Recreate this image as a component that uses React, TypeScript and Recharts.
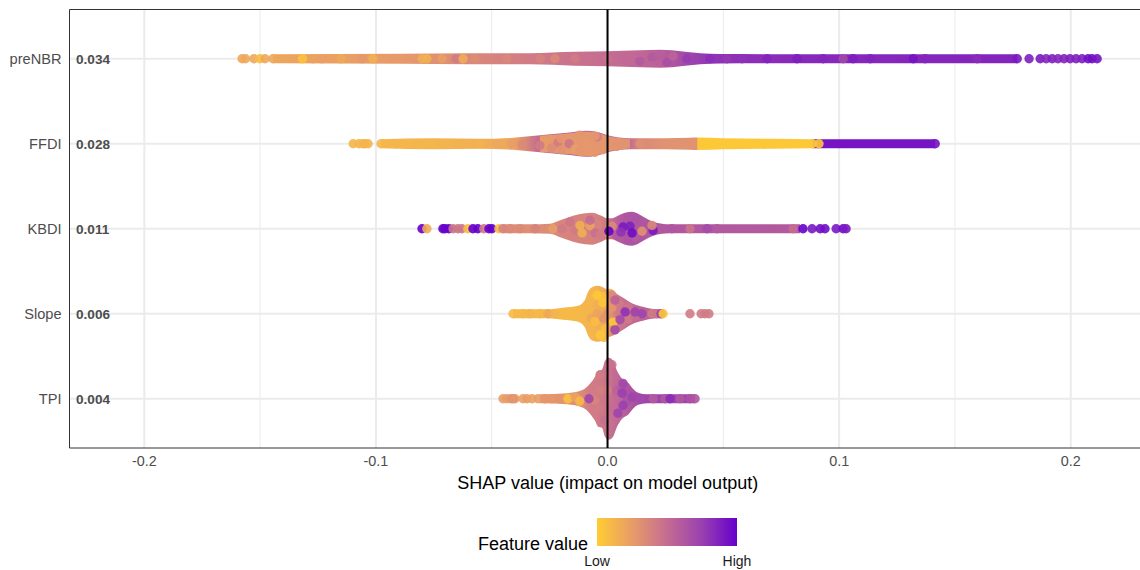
import { ComposedChart, Area, Scatter, XAxis, YAxis, ZAxis, CartesianGrid, ReferenceLine } from 'recharts';

const FONT = '"Liberation Sans", Arial, sans-serif';

const features = ['preNBR', 'FFDI', 'KBDI', 'Slope', 'TPI'];
const meanShap = ['0.034', '0.028', '0.011', '0.006', '0.004'];
const majorTicks = [-0.2, -0.1, 0, 0.1, 0.2];
const minorTicks = [-0.15, -0.05, 0.05, 0.15];
const rowTicks = [1, 2, 3, 4, 5];

// colour bar, low to high
const toneStops = ['#FFCC33', '#E89C68', '#C56C92', '#9940B0', '#6600CC'];

// silhouette of each swarm: shap value, half height (row units), mean feature value
const preNbrX = [-0.1445, -0.0896, -0.0594, -0.0335, -0.014, 0, 0.014, 0.0227, 0.0278, 0.0335, 0.04, 0.0486, 0.0831, 0.1769];
const preNbrHalf = [0.053, 0.059, 0.065, 0.065, 0.082, 0.088, 0.1, 0.106, 0.1, 0.082, 0.065, 0.056, 0.053, 0.053];
const preNbrTone = [0.2, 0.26, 0.35, 0.42, 0.47, 0.5, 0.53, 0.56, 0.62, 0.7, 0.76, 0.8, 0.84, 0.86];

const ffdiX = [-0.0978, -0.0754, -0.0551, -0.0408, -0.0292, -0.0175, -0.0089, -0.0032, 0, 0.0097, 0.014, 0.0248, 0.0356, 0.0385, 0.039, 0.0499, 0.0715, 0.0885, 0.0892, 0.1415];
const ffdiHalf = [0.053, 0.065, 0.059, 0.071, 0.1, 0.129, 0.153, 0.129, 0.1, 0.065, 0.065, 0.065, 0.071, 0.074, 0.074, 0.065, 0.059, 0.053, 0.053, 0.053];
const ffdiTone = [0.11, 0.12, 0.15, 0.2, 0.52, 0.6, 0.62, 0.6, 0.55, 0.5, 0.35, 0.3, 0.3, 0.3, 0.02, 0.02, 0.02, 0.02, 0.92, 0.92];

const ffdiCoreX = [-0.0292, -0.0175, -0.0089, -0.0032, 0, 0.0097];
const ffdiCoreHalf = [0.095, 0.12, 0.145, 0.12, 0.09, 0.055];
const ffdiCoreTone = [0.25, 0.27, 0.28, 0.28, 0.28, 0.3];

const kbdiX = [-0.0451, -0.0335, -0.0248, -0.0205, -0.0149, -0.0097, -0.0067, -0.0032, 0, 0.0019, 0.0045, 0.0076, 0.0106, 0.0132, 0.0162, 0.0197, 0.0235, 0.027, 0.0831];
const kbdiHalf = [0.053, 0.053, 0.059, 0.1, 0.153, 0.182, 0.188, 0.159, 0.124, 0.124, 0.153, 0.188, 0.2, 0.176, 0.129, 0.082, 0.059, 0.053, 0.053];
const kbdiTone = [0.32, 0.32, 0.34, 0.37, 0.38, 0.38, 0.38, 0.4, 0.43, 0.5, 0.58, 0.63, 0.64, 0.64, 0.62, 0.62, 0.62, 0.62, 0.6];

const slopeX = [-0.0408, -0.0261, -0.0192, -0.0127, -0.0097, -0.0084, -0.0063, -0.0045, -0.0024, 0, 0.0032, 0.0067, 0.011, 0.0153, 0.0214, 0.024];
const slopeHalf = [0.053, 0.053, 0.071, 0.094, 0.165, 0.259, 0.318, 0.329, 0.318, 0.282, 0.247, 0.188, 0.118, 0.082, 0.053, 0.053];
const slopeTone = [0.1, 0.1, 0.1, 0.1, 0.12, 0.12, 0.12, 0.14, 0.16, 0.22, 0.4, 0.48, 0.52, 0.55, 0.55, 0.5];

const tpiX = [-0.0292, -0.0175, -0.0106, -0.0076, -0.0054, -0.0041, -0.0024, -0.0011, 0.0006, 0.0024, 0.0041, 0.0063, 0.0089, 0.011, 0.0132, 0.0171, 0.0378];
const tpiHalf = [0.053, 0.065, 0.106, 0.176, 0.259, 0.329, 0.341, 0.447, 0.482, 0.447, 0.329, 0.235, 0.188, 0.118, 0.071, 0.053, 0.053];
const tpiTone = [0.25, 0.28, 0.35, 0.42, 0.42, 0.43, 0.44, 0.46, 0.47, 0.5, 0.52, 0.55, 0.6, 0.64, 0.68, 0.72, 0.72];

// single points readable in the swarm: [shap value, row offset, feature value]
const preNbrDots = [
  [-0.1578, 0, 0.19], [-0.1563, 0, 0.19], [-0.1527, 0, 0.19], [-0.1501, 0, 0.08], [-0.1479, 0, 0.19], [-0.1445, 0, 0.19],
  [-0.1317, 0, 0.05], [-0.1272, 0, 0.22], [-0.1233, 0, 0.24], [-0.1151, 0, 0.18], [-0.106, 0, 0.27], [-0.1013, 0, 0.14],
  [-0.0801, 0, 0.16], [-0.078, 0, 0.14], [-0.0715, 0, 0.24], [-0.0654, 0, 0.42], [-0.0624, 0, 0.17], [-0.0572, 0, 0.33],
  [-0.0434, 0, 0.36], [-0.0291, 0, 0.38], [-0.0227, 0, 0.35], [-0.014, 0, 0.42], [-0.0067, 0, 0.48], [0, 0, 0.47], [0.008, 0.02, 0.52],
  [0.014, 0.03, 0.6], [0.0192, -0.02, 0.6], [0.022, -0.04, 0.58], [0.0257, 0.04, 0.66], [0.0283, -0.03, 0.55], [0.0343, 0, 0.76], [0.0443, 0, 0.82],
  [0.0516, 0, 0.78], [0.0581, 0, 0.8], [0.0689, 0, 0.86], [0.0818, 0, 0.88], [0.0931, 0, 0.85], [0.1017, 0, 0.7], [0.106, 0, 0.88],
  [0.1134, 0, 0.86], [0.132, 0, 0.92], [0.1371, 0, 0.85], [0.1596, 0, 0.82], [0.1769, 0, 0.9], [0.182, 0, 0.88], [0.1868, 0, 0.9],
  [0.1894, 0, 0.85], [0.192, 0, 0.88], [0.1945, 0, 0.85], [0.1971, 0, 0.86], [0.1997, 0, 0.88], [0.2023, 0, 0.88], [0.2049, 0, 0.88],
  [0.2075, 0, 0.95], [0.2092, 0, 0.95], [0.2114, 0, 0.92],
];

const ffdiDots = [
  [-0.1098, 0, 0.12], [-0.1073, 0, 0.12], [-0.1056, 0, 0.12], [-0.1047, 0, 0.12], [-0.1034, 0, 0.12], [-0.0978, 0, 0.11],
  [-0.0917, 0, 0.12], [-0.081, 0, 0.12], [-0.0628, 0, 0.14], [-0.0551, 0, 0.13], [-0.0477, 0, 0.2], [-0.0413, 0, 0.25],
  [-0.0369, 0.01, 0.35], [-0.0292, 0.02, 0.42], [-0.0214, -0.01, 0.42], [-0.0166, 0, 0.45], [-0.0045, -0.08, 0.42],
  [-0.014, 0.06, 0.25], [0.014, 0, 0.32], [0.0885, 0, 0.02], [0.0913, 0, 0.02], [0.1415, 0, 0.92],
  [-0.0119, -0.1, 0.28], [-0.0054, -0.09, 0.28], [-0.0119, 0.09, 0.28], [-0.0054, 0.1, 0.28], [-0.002, 0.07, 0.28], [-0.02, -0.06, 0.28],
  [-0.02, 0.07, 0.3], [0.004, 0.03, 0.3], [-0.009, 0, 0.27], [-0.0242, 0.05, 0.33], [-0.0082, 0.1, 0.27],
];

const kbdiDots = [
  [-0.0801, 0, 1], [-0.078, 0, 0.17], [-0.0711, 0, 1], [-0.0702, 0, 1], [-0.0685, 0, 1], [-0.0667, 0, 0.45], [-0.0646, 0, 0.45],
  [-0.0629, 0, 0.45], [-0.0603, 0, 0.08], [-0.0581, 0, 1], [-0.056, 0, 1], [-0.0534, 0, 0.42], [-0.0512, 0, 1], [-0.0499, 0, 1],
  [-0.0469, 0, 0.06], [-0.0452, 0, 0.38], [-0.0421, 0, 0.35], [-0.0378, 0, 0.35], [-0.0313, 0, 0.38], [-0.0236, 0, 0.25], [-0.0197, 0, 0.42],
  [-0.0097, 0.03, 0.4], [-0.014, 0.02, 0.42], [-0.004, -0.05, 0.38], [0.002, -0.03, 0.35], [0, 0.05, 0.35],
  [-0.0119, -0.04, 0.15], [-0.011, 0.05, 0.15], [-0.0076, -0.035, 0.22], [-0.0054, 0.05, 0.48], [-0.0076, -0.1, 0.5],
  [-0.0162, -0.08, 0.45], [-0.0032, 0.07, 0.42], [0.004, 0.08, 0.6], [0.012, 0.1, 0.6], [0.016, -0.05, 0.62], [0.0006, 0.03, 1], [0.0067, -0.02, 0.9], [0.0097, -0.03, 0.88], [0.0058, 0.04, 0.8],
  [0.0106, 0.05, 0.95], [0.014, -0.02, 0.62], [0.0197, 0.02, 0.9], [0.0149, 0.03, 0.3], [0.0192, -0.04, 0.35], [0.0278, 0, 0.62],
  [0.0356, 0, 0.45], [0.043, 0, 0.68], [0.0473, 0, 0.6], [0.0801, 0, 0.5], [0.0844, 0, 1], [0.0883, 0, 0.9], [0.0918, 0, 0.95],
  [0.0939, 0, 0.95], [0.0987, 0, 0.9], [0.1017, 0, 0.95], [0.103, 0, 0.9],
];

const slopeDots = [
  [-0.0408, 0, 0.1], [-0.0365, 0, 0.1], [-0.0335, 0, 0.12], [-0.0292, 0, 0.1], [-0.0257, 0, 0.18], [-0.0227, 0, 0.12],
  [0, 0, 0.3], [0.002, -0.08, 0.28], [0.005, -0.12, 0.42], [0.006, 0.12, 0.45], [0.009, 0.06, 0.42], [0.009, -0.08, 0.45], [0.012, 0.03, 0.5],
  [0, 0.12, 0.2], [-0.002, 0.05, 0.3], [-0.006, -0.05, 0.12], [-0.007, 0.05, 0.18], [-0.004, -0.15, 0.1], [-0.001, 0.18, 0.08], [-0.002, -0.2, 0.06],
  [-0.0015, 0.28, 0.1], [0.001, -0.24, 0.15],
  [-0.0045, -0.22, 0.02], [-0.0045, -0.1, 0.15], [-0.0045, 0, 0.22], [-0.0054, 0.09, 0.08], [-0.0032, 0.25, 0.03], [-0.002, -0.13, 0.04],
  [0.0024, 0.1, 0.02], [0.0024, 0.19, 0.25], [0.0019, -0.22, 0.35], [0.0032, -0.16, 0.55], [0.0076, -0.02, 0.8], [0.0119, -0.02, 0.72],
  [0.0149, 0, 0.72], [0.0054, 0.07, 0.68], [0.0032, 0.19, 0.7], [0.0192, 0, 0.42], [0.0214, 0, 0.45], [0.0231, 0, 0.75], [0.024, 0, 0.03],
  [0.0356, 0, 0.42], [0.0404, 0, 0.42], [0.0421, 0, 0.42], [0.0438, 0, 0.42],
];

const tpiDots = [
  [-0.0451, 0, 0.25], [-0.0434, 0, 0.25], [-0.0417, 0, 0.28], [-0.0408, 0, 0.3], [-0.04, 0, 0.28], [-0.0365, 0, 0.22], [-0.0348, 0, 0.25],
  [-0.0326, 0, 0.22], [-0.03, 0, 0.25], [-0.027, 0, 0.28], [-0.024, 0, 0.28], [-0.0205, 0, 0.3], [-0.0171, 0, 0.05], [-0.0128, 0, 0.3],
  [-0.014, -0.02, 0.22], [-0.012, 0.03, 0.1], [-0.003, -0.1, 0.4], [-0.004, 0.12, 0.42], [-0.002, 0.2, 0.45], [0, -0.25, 0.47], [0.001, 0.3, 0.48],
  [0, -0.1, 0.43], [0.002, 0.1, 0.5], [0.004, -0.1, 0.55], [-0.0055, 0.02, 0.38], [-0.0075, 0, 0.35], [0.006, -0.12, 0.6], [0.0085, 0.02, 0.65], [0.008, -0.1, 0.65],
  [-0.008, 0, 0.72], [0.0063, -0.065, 0.75], [0.0067, -0.18, 0.7], [0.0106, -0.02, 0.72], [0.0067, 0.08, 0.75], [0.0045, 0.17, 0.72],
  [-0.0032, -0.28, 0.42], [0.0019, -0.4, 0.47], [-0.0011, 0.25, 0.48], [0.014, 0, 0.7], [0.0197, 0, 0.6], [0.0248, 0, 0.62], [0.027, 0, 0.82],
  [0.0313, 0, 0.62], [0.0356, 0, 0.65], [0.0378, 0, 0.63],
];

function toneColor(t: number) {
  const pos = Math.min(t, 0.9999) * (toneStops.length - 1);
  const i = Math.floor(pos);
  const mix = (a: string, b: string) => Math.round(parseInt(a, 16) * (1 - (pos - i)) + parseInt(b, 16) * (pos - i));
  const [c1, c2] = [toneStops[i], toneStops[i + 1]];
  return `rgb(${mix(c1.slice(1, 3), c2.slice(1, 3))},${mix(c1.slice(3, 5), c2.slice(3, 5))},${mix(c1.slice(5, 7), c2.slice(5, 7))})`;
}

const bands = [
  { id: 'preNBR', row: 1, x: preNbrX, half: preNbrHalf, tone: preNbrTone },
  { id: 'FFDI', row: 2, x: ffdiX, half: ffdiHalf, tone: ffdiTone },
  { id: 'FFDIcore', row: 2, x: ffdiCoreX, half: ffdiCoreHalf, tone: ffdiCoreTone },
  { id: 'KBDI', row: 3, x: kbdiX, half: kbdiHalf, tone: kbdiTone },
  { id: 'Slope', row: 4, x: slopeX, half: slopeHalf, tone: slopeTone },
  { id: 'TPI', row: 5, x: tpiX, half: tpiHalf, tone: tpiTone },
];

const swarms = [preNbrDots, ffdiDots, kbdiDots, slopeDots, tpiDots];

function RowTick({ x, y, payload }: any) {
  const i = payload.value - 1;
  return (
    <g fontFamily={FONT}>
      <text x={x} y={y + 5} textAnchor="end" fontSize={14.6} fill="#4d4d4d">{features[i]}</text>
      <text x={76} y={y + 5} fontSize={13.6} fontWeight="bold" fill="#4d4d4d">{meanShap[i]}</text>
    </g>
  );
}

function SwarmDot({ cx, cy, payload }: any) {
  return <circle cx={cx} cy={cy} r={4.7} fill={toneColor(payload.tone)} fillOpacity={0.9} />;
}

function ColourBar() {
  const text = { position: 'absolute', fontFamily: FONT, whiteSpace: 'nowrap' } as const;
  return (
    <>
      <div style={{ ...text, left: 478, top: 533, fontSize: 18, lineHeight: '22px', color: '#000' }}>Feature value</div>
      <div style={{ position: 'absolute', left: 597, top: 518, width: 140, height: 28, background: `linear-gradient(to right, ${toneStops.join(', ')})` }} />
      <div style={{ ...text, left: 567, width: 60, top: 553, textAlign: 'center', fontSize: 14, lineHeight: '16px', color: '#1a1a1a' }}>Low</div>
      <div style={{ ...text, left: 707, width: 60, top: 553, textAlign: 'center', fontSize: 14, lineHeight: '16px', color: '#1a1a1a' }}>High</div>
    </>
  );
}

export default function App() {
  return (
    <div style={{ position: 'absolute', left: 0, top: 0, width: 1140, height: 570, background: '#fff' }}>
      <ComposedChart width={1140} height={570} margin={{ top: 9.5, right: 0, bottom: 77, left: 0 }}>
        <defs>
          {bands.map((b) => (
            <linearGradient key={b.id} id={`tone-${b.id}`} x1="0" x2="1" y1="0" y2="0">
              {b.x.map((v, i) => (
                <stop key={i} offset={(v - b.x[0]) / (b.x[b.x.length - 1] - b.x[0])} stopColor={toneColor(b.tone[i])} />
              ))}
            </linearGradient>
          ))}
        </defs>
        <CartesianGrid stroke="#ebebeb" strokeWidth={1} horizontal={false} verticalValues={minorTicks} />
        <CartesianGrid stroke="#ebebeb" strokeWidth={2} verticalValues={majorTicks} horizontalValues={rowTicks} />
        <XAxis
          dataKey="x"
          type="number"
          domain={[-0.2323, 0.2299]}
          ticks={majorTicks}
          tickFormatter={(v: number) => v.toFixed(1)}
          tick={{ fontSize: 14.4, fill: '#4d4d4d', fontFamily: FONT }}
          tickLine={false}
          stroke="#333333"
          height={45}
          allowDataOverflow
          label={{ value: 'SHAP value (impact on model output)', position: 'insideBottom', offset: 4, dx: 3, fontSize: 18, fill: '#000', fontFamily: FONT }}
        />
        <YAxis
          type="number"
          domain={[0.42, 5.58]}
          reversed
          ticks={rowTicks}
          tick={<RowTick />}
          tickLine={false}
          stroke="#333333"
          width={69.5}
          allowDataOverflow
        />
        <ZAxis range={[64, 64]} />
        <ReferenceLine y={0.42} stroke="#333333" />
        {bands.map((b) => (
          <Area
            key={b.id}
            data={b.x.map((v, i) => ({ x: v, band: [b.row - b.half[i], b.row + b.half[i]] }))}
            dataKey="band"
            type="monotone"
            stroke="none"
            fill={`url(#tone-${b.id})`}
            fillOpacity={1}
            dot={false}
            activeDot={false}
            isAnimationActive={false}
          />
        ))}
        {swarms.map((dots, r) => (
          <Scatter
            key={features[r]}
            data={dots.map(([x, off, tone]) => ({ x, y: r + 1 + off, tone }))}
            dataKey="y"
            shape={<SwarmDot />}
            isAnimationActive={false}
          />
        ))}
        <ReferenceLine x={0} stroke="#000000" strokeWidth={2} zIndex={2000} />
      </ComposedChart>
      <ColourBar />
    </div>
  );
}
